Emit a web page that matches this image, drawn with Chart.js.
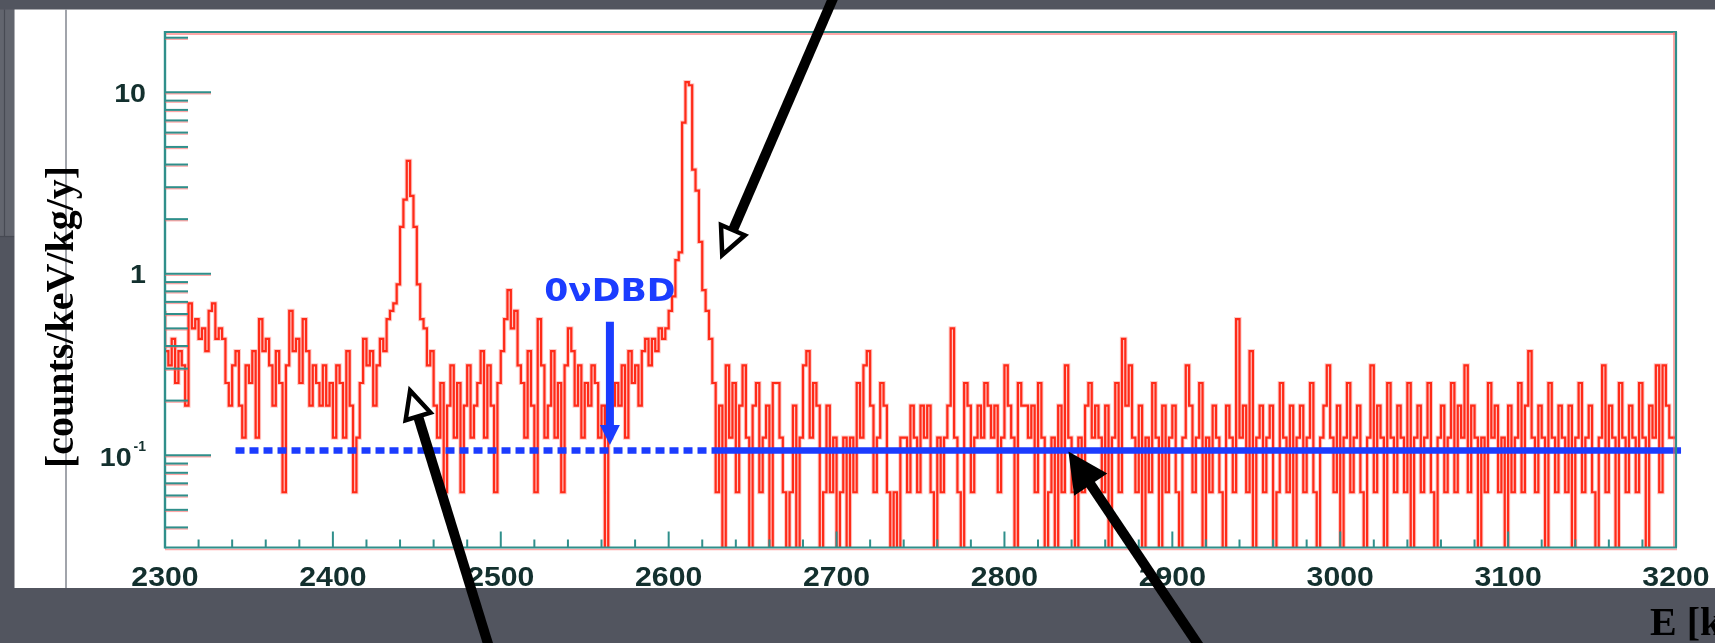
<!DOCTYPE html>
<html>
<head>
<meta charset="utf-8">
<title>Background spectrum 2300-3200 keV</title>
<script src="https://cdn.jsdelivr.net/npm/chart.js@4.4.1/dist/chart.umd.min.js"></script>
<style>
  html, body { margin: 0; padding: 0; background: #52555f; overflow: hidden; }
  #wrap { position: relative; width: 1715px; height: 643px; }
</style>
</head>
<body>
<div id="wrap"><canvas id="spectrum"></canvas></div>
<script>
// ---- spectrum data -------------------------------------------------------
const binStart = 2300;          // keV, lower edge of the first bin
const binWidth = 2;             // keV per bin
const ratePerCount = 0.0625;    // counts/keV/kg/y carried by one entry
const emptyBinLevel = 0.01;     // empty bins drop below the axis floor

// entries per 2 keV bin, one row = 20 keV
const counts = [
  10, 6, 5, 7, 4, 6, 5, 3, 11, 8,        // 2300
  9, 7, 8, 6, 10, 11, 7, 8, 7, 4,        // 2320
  3, 5, 6, 3, 2, 5, 4, 6, 2, 9,          // 2340
  6, 7, 5, 3, 6, 4, 1, 5, 10, 6,         // 2360
  7, 4, 9, 6, 3, 5, 4, 3, 5, 3,          // 2380
  4, 2, 5, 4, 2, 6, 3, 1, 2, 4,          // 2400
  7, 5, 6, 3, 5, 7, 6, 9, 10, 11,        // 2420
  14, 29, 41, 67, 43, 29, 14, 9, 8, 5,   // 2440
  6, 3, 2, 4, 1, 3, 5, 2, 4, 1,          // 2460
  3, 5, 2, 3, 4, 6, 2, 5, 3, 1,          // 2480
  4, 6, 9, 13, 8, 10, 5, 4, 2, 6,        // 2500
  3, 1, 9, 5, 2, 3, 6, 2, 4, 1,          // 2520
  5, 8, 6, 3, 5, 2, 4, 3, 5, 4,          // 2540
  2, 3, 0, 2, 3, 4, 3, 5, 2, 6,          // 2560
  4, 5, 3, 6, 7, 5, 7, 6, 8, 7,          // 2580
  8, 10, 12, 19, 21, 109, 182, 175, 60, 46, // 2600
  24, 13, 10, 7, 4, 1, 3, 0, 5, 2,       // 2620
  4, 1, 3, 5, 2, 0, 3, 4, 1, 2,          // 2640
  3, 0, 4, 4, 2, 1, 0, 1, 3, 0,          // 2660
  2, 5, 6, 2, 4, 3, 0, 1, 3, 1,          // 2680
  2, 0, 1, 2, 0, 2, 1, 4, 2, 5,          // 2700
  6, 3, 1, 2, 4, 3, 1, 0, 1, 0,          // 2720
  2, 2, 1, 3, 2, 1, 3, 2, 3, 1,          // 2740
  0, 2, 1, 2, 3, 8, 2, 1, 0, 4,          // 2760
  3, 1, 2, 3, 2, 4, 3, 2, 3, 1,          // 2780
  2, 5, 3, 2, 0, 4, 3, 3, 2, 3,          // 2800
  1, 4, 2, 0, 1, 2, 0, 3, 1, 5,          // 2820
  2, 1, 0, 2, 1, 3, 4, 2, 3, 2,          // 2840
  1, 3, 0, 2, 4, 1, 7, 3, 5, 2,          // 2860
  1, 3, 0, 2, 1, 4, 2, 0, 3, 1,          // 2880
  2, 3, 1, 0, 2, 5, 3, 1, 2, 4,          // 2900
  0, 2, 1, 3, 2, 1, 0, 3, 2, 1,          // 2920
  9, 2, 3, 1, 6, 0, 2, 3, 1, 2,          // 2940
  3, 0, 1, 4, 2, 1, 3, 0, 2, 3,          // 2960
  1, 2, 4, 1, 0, 2, 3, 5, 2, 1,          // 2980
  3, 0, 2, 4, 1, 2, 3, 1, 0, 2,          // 3000
  5, 1, 3, 2, 0, 4, 2, 1, 3, 2,          // 3020
  1, 4, 0, 2, 3, 1, 2, 4, 1, 0,          // 3040
  2, 3, 1, 2, 4, 1, 3, 2, 5, 1,          // 3060
  3, 2, 0, 2, 1, 4, 2, 3, 1, 2,          // 3080
  0, 3, 1, 2, 4, 1, 3, 6, 2, 1,          // 3100
  3, 2, 0, 4, 2, 1, 3, 2, 1, 3,          // 3120
  0, 2, 4, 1, 2, 3, 1, 0, 2, 5,          // 3140
  1, 3, 2, 0, 4, 2, 1, 3, 2, 1,          // 3160
  4, 2, 0, 3, 2, 5, 1, 5, 3, 2           // 3180
];

// flat background level, extrapolated (dashed) below the 2615 keV line
const bkgRate = 0.106;
const bkgDashedRange = [2342, 2630];
const bkgSolidRange = [2630, 3203];

// 0νDBD region marker
const qLabel = '0νDBD';
const qEnergy = 2565;
const qArrowFromRate = 0.544;
const qArrowToRate = 0.114;
const qLabelRate = 0.706;

// axes
const xRange = [2300, 3200];
const yRange = [0.031, 21.5];
const xTickLabels = [2300, 2400, 2500, 2600, 2700, 2800, 2900, 3000, 3100, 3200];
const xMinorStep = 20;
const yDecades = [0.01, 0.1, 1, 10];
const yLabelledDecades = [0.1, 1, 10];
const yMinorMultipliers = [2, 3, 4, 5, 6, 7, 8, 9];
const yTitle = '[counts/keV/kg/y]';
const xTitle = 'E [keV]';

// pointer arrows on the slide: [keV, rate] of tail and tip
const pointers = [
  { tail: [2700, 36.6],   tip: [2631.9, 1.27],  filled: false },
  { tail: [2494.3, 0.008], tip: [2446.0, 0.227], filled: false },
  { tail: [2919.2, 0.008], tip: [2838.1, 0.1048], filled: true }
];

// ---- derived series -------------------------------------------------------
const histPoints = counts.map((n, i) => ({
  x: binStart + i * binWidth,
  y: n > 0 ? n * ratePerCount : emptyBinLevel
}));
histPoints.push({ x: binStart + counts.length * binWidth,
                  y: histPoints[histPoints.length - 1].y });

// ---- drawing helpers -------------------------------------------------------
const TEAL = '#2f8f8b';
const GHOST = 'rgba(255,95,95,0.55)';
const LABEL = '#13302e';
const BLUE = '#1b3cff';

function stretchedText(c, text, x, y, align, sx) {
  c.save();
  c.translate(x, y);
  c.scale(sx, 1);
  c.textAlign = align;
  c.fillText(text, 0, 0);
  c.restore();
}

function hLine(c, x0, x1, y, color, w) {
  c.strokeStyle = color; c.lineWidth = w;
  c.beginPath(); c.moveTo(x0, y); c.lineTo(x1, y); c.stroke();
}
function vLine(c, x, y0, y1, color, w) {
  c.strokeStyle = color; c.lineWidth = w;
  c.beginPath(); c.moveTo(x, y0); c.lineTo(x, y1); c.stroke();
}

function drawPointer(c, x0, y0, x1, y1, filled) {
  const dx = x1 - x0, dy = y1 - y0, len = Math.hypot(dx, dy);
  const ux = dx / len, uy = dy / len, nx = -uy, ny = ux;
  const headLen = filled ? 40 : 27;
  const headHalf = filled ? 20 : 13;
  const bx = x1 - ux * headLen, by = y1 - uy * headLen;
  c.save();
  c.lineCap = 'butt';
  c.strokeStyle = '#000';
  c.lineWidth = 10;
  c.beginPath();
  c.moveTo(x0, y0);
  c.lineTo(bx + ux * 4, by + uy * 4);
  c.stroke();
  c.beginPath();
  c.moveTo(x1, y1);
  c.lineTo(bx + nx * headHalf, by + ny * headHalf);
  c.lineTo(bx - nx * headHalf, by - ny * headHalf);
  c.closePath();
  if (filled) {
    c.fillStyle = '#000';
    c.fill();
  } else {
    c.fillStyle = '#fff';
    c.fill();
    c.lineWidth = 4.5;
    c.lineJoin = 'miter';
    c.stroke();
  }
  c.restore();
}

// ---- slide, frame, ticks and annotations ----------------------------------
const slidePlugin = {
  id: 'slideDecor',
  beforeDraw(chart) {
    const c = chart.ctx, W = chart.width;
    c.save();
    c.fillStyle = '#52555f';
    c.fillRect(0, 0, W, chart.height);
    // edge of a neighbouring slide element
    c.fillStyle = '#62656e';
    c.fillRect(0, 9.5, 14.5, 227);
    vLine(c, 4.5, 9.5, 236.5, '#474a53', 1.2);
    hLine(c, 0, 14.5, 236.5, '#474a53', 1.2);
    // white panel
    c.fillStyle = '#ffffff';
    c.fillRect(14.5, 9.5, W - 14.5, 578.5);
    vLine(c, 66, 9.5, 588, '#8a8e96', 1.6);
    // vertical axis title
    c.translate(73, 317);
    c.rotate(-Math.PI / 2);
    c.font = 'bold 40px "Liberation Serif", "Times New Roman", serif';
    c.fillStyle = '#000';
    c.textAlign = 'center';
    c.textBaseline = 'alphabetic';
    c.fillText(yTitle, 0, 0);
    c.restore();
  },
  afterDatasetsDraw(chart) {
    const c = chart.ctx, a = chart.chartArea;
    const xs = chart.scales.x, ys = chart.scales.y;
    c.save();
    c.lineCap = 'butt';

    // frame
    hLine(c, a.left, a.right, a.top + 2, GHOST, 2);
    hLine(c, a.left, a.right + 1, a.top, TEAL, 2.2);
    vLine(c, a.right - 2, a.top, a.bottom, GHOST, 2);
    vLine(c, a.right, a.top, a.bottom, TEAL, 2.2);
    hLine(c, a.left, a.right + 1, a.bottom + 2, GHOST, 1.5);
    hLine(c, a.left, a.right + 1, a.bottom, TEAL, 2.2);
    vLine(c, a.left, a.top - 1, a.bottom + 1, TEAL, 2.4);

    // y ticks, pointing into the frame
    yDecades.forEach(d => {
      [1].concat(yMinorMultipliers).forEach(m => {
        const v = d * m;
        if (v < yRange[0] || v > yRange[1]) return;
        const py = ys.getPixelForValue(v);
        const len = m === 1 ? 46 : 23;
        hLine(c, a.left, a.left + len, py + 1.5, GHOST, 1.5);
        hLine(c, a.left, a.left + len, py, TEAL, 2);
      });
    });

    // x ticks
    for (let v = xRange[0]; v <= xRange[1]; v += xMinorStep) {
      const px = xs.getPixelForValue(v);
      const len = v % 100 === 0 ? 16 : 8;
      vLine(c, px, a.bottom, a.bottom - len, TEAL, 2);
    }

    // tick labels
    c.fillStyle = LABEL;
    c.textBaseline = 'alphabetic';
    c.font = 'bold 27px "Liberation Sans", Arial, sans-serif';
    xTickLabels.forEach(v => {
      stretchedText(c, String(v), xs.getPixelForValue(v), 586, 'center', 1.12);
    });
    const labelRight = 146;
    yLabelledDecades.forEach(v => {
      const py = ys.getPixelForValue(v);
      c.font = 'bold 26px "Liberation Sans", Arial, sans-serif';
      if (v >= 1) {
        stretchedText(c, String(v), labelRight, py + 9.5, 'right', 1.1);
      } else {
        const exp = String(Math.round(Math.log10(v)));
        c.font = 'bold 14px "Liberation Sans", Arial, sans-serif';
        const ew = c.measureText(exp).width;
        stretchedText(c, exp, labelRight, py - 4, 'right', 1.0);
        c.font = 'bold 26px "Liberation Sans", Arial, sans-serif';
        stretchedText(c, '10', labelRight - ew - 2, py + 11, 'right', 1.1);
      }
    });

    // 0νDBD marker
    const qx = xs.getPixelForValue(qEnergy);
    const qy0 = ys.getPixelForValue(qArrowFromRate);
    const qy1 = ys.getPixelForValue(qArrowToRate);
    c.fillStyle = BLUE;
    c.fillRect(qx - 4, qy0, 8, (qy1 - qy0) - 18);
    c.beginPath();
    c.moveTo(qx - 10, qy1 - 20);
    c.lineTo(qx + 10, qy1 - 20);
    c.lineTo(qx, qy1);
    c.closePath();
    c.fill();
    c.font = 'bold 32px "DejaVu Sans", "Liberation Sans", sans-serif';
    stretchedText(c, qLabel, qx, ys.getPixelForValue(qLabelRate), 'center', 1.08);
    c.restore();
  },
  afterDraw(chart) {
    const c = chart.ctx;
    const xs = chart.scales.x, ys = chart.scales.y;
    pointers.forEach(p => {
      drawPointer(c,
        xs.getPixelForValue(p.tail[0]), ys.getPixelForValue(p.tail[1]),
        xs.getPixelForValue(p.tip[0]), ys.getPixelForValue(p.tip[1]),
        p.filled);
    });
    c.save();
    c.fillStyle = '#000';
    c.font = 'bold 40px "Liberation Serif", "Times New Roman", serif';
    c.textAlign = 'left';
    c.textBaseline = 'alphabetic';
    c.fillText(xTitle, 1650, 635);
    c.restore();
  }
};

new Chart(document.getElementById('spectrum'), {
  type: 'line',
  data: {
    datasets: [
      {
        label: 'spectrum',
        data: histPoints,
        stepped: 'after',
        borderColor: 'rgba(255,20,0,0.88)',
        borderWidth: 2.2,
        pointRadius: 0,
        fill: false,
        order: 3
      },
      {
        // wider pale stroke of the same spectrum, gives the shaded look
        label: 'spectrum shading',
        data: histPoints,
        stepped: 'after',
        borderColor: 'rgba(255,90,80,0.32)',
        borderWidth: 4.2,
        borderJoinStyle: 'miter',
        pointRadius: 0,
        fill: false,
        order: 4
      },
      {
        label: 'background (extrapolated)',
        data: bkgDashedRange.map(x => ({ x, y: bkgRate })),
        borderColor: BLUE,
        borderWidth: 6.5,
        borderDash: [9, 5],
        borderCapStyle: 'butt',
        pointRadius: 0,
        clip: false,
        order: 1
      },
      {
        label: 'background',
        data: bkgSolidRange.map(x => ({ x, y: bkgRate })),
        borderColor: BLUE,
        borderWidth: 6.5,
        borderCapStyle: 'butt',
        pointRadius: 0,
        clip: false,
        order: 0
      }
    ]
  },
  options: {
    responsive: true,
    maintainAspectRatio: false,
    devicePixelRatio: 1,
    animation: false,
    events: [],
    layout: { padding: { left: 165, right: 39, top: 32, bottom: 95.5 } },
    plugins: { legend: { display: false }, tooltip: { enabled: false } },
    scales: {
      x: { type: 'linear', min: xRange[0], max: xRange[1], display: false },
      y: { type: 'logarithmic', min: yRange[0], max: yRange[1], display: false }
    }
  },
  plugins: [slidePlugin]
});
</script>
</body>
</html>
